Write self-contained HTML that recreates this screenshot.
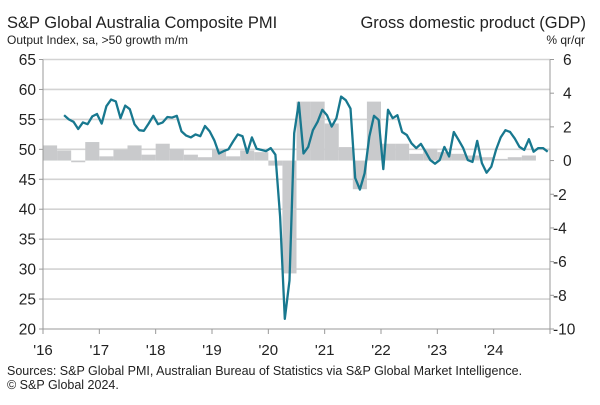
<!DOCTYPE html>
<html><head><meta charset="utf-8"><style>
body{margin:0;background:#fff;width:600px;height:400px;overflow:hidden;font-family:"Liberation Sans",sans-serif;}
svg text{font-family:"Liberation Sans",sans-serif;fill:#222;}
</style></head><body>
<svg id="chart" width="600" height="400">
<text x="7" y="28" font-size="16.5">S&amp;P Global Australia Composite PMI</text>
<text x="7" y="44" font-size="12" textLength="181">Output Index, sa, &gt;50 growth m/m</text>
<text x="586" y="28" font-size="16.5" text-anchor="end">Gross domestic product (GDP)</text>
<text x="585" y="44" font-size="12" text-anchor="end">% qr/qr</text>
<g id="grid"></g><g id="bars"></g><g id="axes"></g><g id="line"></g>
<text x="7" y="375" font-size="12.5">Sources: S&amp;P Global PMI, Australian Bureau of Statistics via S&amp;P Global Market Intelligence.</text>
<text x="7" y="389" font-size="12.5">© S&amp;P Global 2024.</text>
</svg>
<script>
const pmiStartMonth = 4; // May 2016 (months since Jan 2016)
const pmiValues = [55.7,55.0,54.6,53.4,54.5,54.2,55.5,55.9,
54.3,57.2,58.3,58.0,55.2,57.3,56.7,54.2,53.2,53.1,54.3,55.6,
54.2,54.5,55.4,55.3,55.6,53.0,52.3,52.0,52.5,52.2,53.9,53.0,
51.5,49.3,49.7,50.0,51.3,52.5,52.2,49.4,52.0,50.1,49.9,49.7,
50.2,49.1,38.8,21.7,28.1,52.7,57.8,49.3,50.4,53.2,54.6,56.6,
55.7,53.8,55.2,58.8,58.2,56.8,45.2,43.3,46.0,52.1,55.6,54.9,
46.7,56.6,55.2,55.7,52.9,52.4,51.0,50.2,50.9,49.6,48.2,47.6,
48.2,50.4,48.8,52.9,51.6,50.2,48.2,47.9,51.4,47.7,46.1,47.1,
49.9,52.0,53.2,52.9,51.8,50.4,49.9,51.7,49.6,50.2,50.2,49.6];
const gdpValues = [0.9,0.6,-0.1,1.1, 0.25,0.65,0.9,0.35, 1.0,0.7,0.35,0.2, 0.7,0.25,0.6,0.5,
-0.3,-6.7,3.5,3.5, 2.2,0.8,-1.7,3.5, 1.0,1.0,0.4,0.7, 0.5,0.4,0.3,0.2, 0.1,0.2,0.3];
const leftTicks = [20,25,30,35,40,45,50,55,60,65];
const rightTicks = [-10,-8,-6,-4,-2,0,2,4,6];
const yearLabels = ["'16","'17","'18","'19","'20","'21","'22","'23","'24"];

const NS="http://www.w3.org/2000/svg";
const X0=43,X1=550,YT=59.5,YB=329;
const xm = m => X0 + m*(X1-X0)/108;
const yl = v => YB - (v-20)*(YB-YT)/45;
const yr = v => YB - (v+10)*(YB-YT)/16;
function mk(tag,attrs,parent){const e=document.createElementNS(NS,tag);for(const k in attrs)e.setAttribute(k,attrs[k]);document.getElementById(parent).appendChild(e);return e;}

leftTicks.forEach(v=>{
  if(v>20){const g=mk('line',{x1:X0,x2:X1,y1:yl(v),y2:yl(v),stroke:'#d3d3d3','stroke-width':1.6},'grid');
  
  }
  const t=mk('text',{x:36,y:yl(v)+5.5,'font-size':15.5,'text-anchor':'end'},'axes');t.textContent=v;
  
  
  mk('line',{x1:X0-4,x2:X0,y1:yl(v),y2:yl(v),stroke:'#999'},'axes');
});
rightTicks.forEach(v=>{
  const t=mk('text',{x:v<0?553:563,y:yr(v)+5.5,'font-size':15.5},'axes');t.textContent=v;
  
  
  mk('line',{x1:X1,x2:X1+4,y1:yr(v),y2:yr(v),stroke:'#999'},'axes');
});
gdpValues.forEach((v,i)=>{
  const x=xm(i*3), w=xm(i*3+3)-x, y0=yr(0), y1=yr(v);
  const b=mk('rect',{x:x,y:Math.min(y0,y1),width:w,height:Math.max(Math.abs(y1-y0),0.5),fill:'#c9cacc'},'bars');
  
  
});
let ax=mk('line',{x1:X0,x2:X0,y1:YT,y2:YB,stroke:'#999','stroke-width':1},'axes');
ax=mk('line',{x1:X1,x2:X1,y1:YT,y2:YB,stroke:'#999','stroke-width':1},'axes');
ax=mk('line',{x1:X0,x2:X1,y1:YB,y2:YB,stroke:'#999','stroke-width':1},'axes');
for(let k=0;k<=9;k++){mk('line',{x1:xm(k*12),x2:xm(k*12),y1:YB,y2:YB+5,stroke:'#999'},'axes');}
yearLabels.forEach((s,k)=>{
  const t=mk('text',{x:xm(k*12),y:355,'font-size':15,'text-anchor':'middle'},'axes');t.textContent=s;
  
  
});
const pts=pmiValues.map((v,i)=>xm(pmiStartMonth+i+0.5).toFixed(1)+','+yl(v).toFixed(1)).join(' ');
const pl=mk('polyline',{points:pts,fill:'none',stroke:'#18788f','stroke-width':2.3,'stroke-linejoin':'round'},'line');


</script>
</body></html>
